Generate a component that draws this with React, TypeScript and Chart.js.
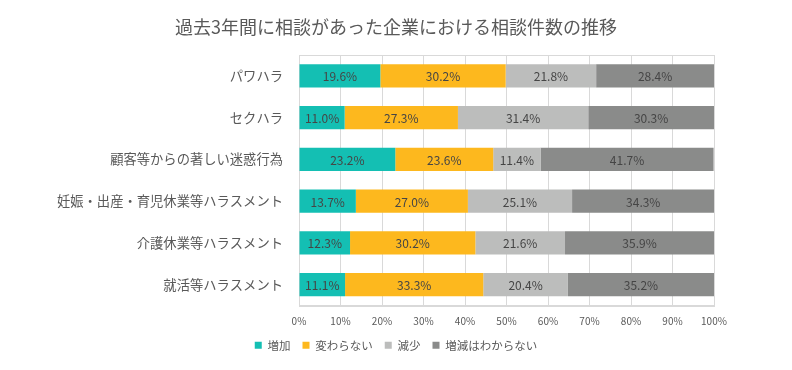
import React, { useEffect, useRef } from "react";
import { Chart, registerables } from "chart.js";

Chart.register(...registerables);

const TITLE = "過去3年間に相談があった企業における相談件数の推移";
const categories = [
  "パワハラ",
  "セクハラ",
  "顧客等からの著しい迷惑行為",
  "妊娠・出産・育児休業等ハラスメント",
  "介護休業等ハラスメント",
  "就活等ハラスメント",
];
const seriesNames = ["増加", "変わらない", "減少", "増減はわからない"];
const increase = [19.6, 11.0, 23.2, 13.7, 12.3, 11.1];
const unchanged = [30.2, 27.3, 23.6, 27.0, 30.2, 33.3];
const decrease = [21.8, 31.4, 11.4, 25.1, 21.6, 20.4];
const unknown = [28.4, 30.3, 41.7, 34.3, 35.9, 35.2];
const xTicks = [0, 10, 20, 30, 40, 50, 60, 70, 80, 90, 100];
const colors = ["#14BFB3", "#FDB81E", "#BCBDBC", "#8A8B8A"];

const FONT = "'Noto Sans CJK JP', 'Noto Sans', sans-serif";

const titlePlugin = {
  id: "centerTitle",
  afterDraw(chart: any) {
    const { ctx, width } = chart;
    ctx.save();
    ctx.font = `18px ${FONT}`;
    ctx.fillStyle = "#595959";
    ctx.textAlign = "center";
    ctx.textBaseline = "middle";
    ctx.fillText(TITLE, width / 2, 27);
    ctx.restore();
  },
};

const framePlugin = {
  id: "frame",
  beforeDatasetsDraw(chart: any) {
    const { ctx, chartArea } = chart;
    ctx.save();
    ctx.strokeStyle = "#D9D9D9";
    ctx.lineWidth = 1;
    ctx.strokeRect(
      Math.round(chartArea.left) + 0.5,
      Math.round(chartArea.top) + 0.5,
      Math.round(chartArea.right - chartArea.left),
      Math.round(chartArea.bottom - chartArea.top)
    );
    ctx.restore();
  },
};

const labelPlugin = {
  id: "barLabels",
  afterDatasetsDraw(chart: any) {
    const { ctx } = chart;
    ctx.save();
    ctx.font = `12px ${FONT}`;
    ctx.fillStyle = "#454545";
    ctx.textAlign = "center";
    ctx.textBaseline = "middle";
    chart.data.datasets.forEach((ds: any, i: number) => {
      const meta = chart.getDatasetMeta(i);
      meta.data.forEach((el: any, j: number) => {
        const v = ds.data[j];
        const cx = (el.x + el.base) / 2;
        ctx.fillText(`${v.toFixed(1)}%`, cx, el.y + 1);
      });
    });
    ctx.restore();
  },
};

export default function App() {
  const ref = useRef<HTMLCanvasElement>(null);
  useEffect(() => {
    if (!ref.current) return;
    const series = [increase, unchanged, decrease, unknown];
    const chart = new Chart(ref.current, {
      type: "bar",
      data: {
        labels: categories,
        datasets: series.map((d, i) => ({
          label: seriesNames[i],
          data: d,
          backgroundColor: colors[i],
          borderWidth: 0,
          categoryPercentage: 0.56,
          barPercentage: 1,
        })),
      },
      options: {
        indexAxis: "y",
        animation: false,
        responsive: false,
        maintainAspectRatio: false,
        layout: { padding: { left: 0, right: 0, top: 55, bottom: 9 } },
        plugins: {
          title: { display: false },
          legend: {
            position: "bottom",
            labels: {
              boxWidth: 7,
              boxHeight: 7,
              color: "#595959",
              font: { family: FONT, size: 11.5 },
              padding: 12,
            },
          },
          tooltip: { enabled: false },
        },
        scales: {
          x: {
            stacked: true,
            min: 0,
            max: 100,
            afterBuildTicks: (axis: any) => {
              axis.ticks = xTicks.map((v) => ({ value: v }));
            },
            afterFit: (axis: any) => {
              axis.height = 22;
            },
            ticks: {
              callback: (v: any) => `${v}%`,
              color: "#595959",
              font: { family: FONT, size: 10 },
              padding: 10,
              maxRotation: 0,
            },
            grid: { color: "#D9D9D9", drawTicks: false },
            border: { color: "#D9D9D9" },
          },
          y: {
            stacked: true,
            afterFit: (axis: any) => {
              axis.width = 299;
            },
            ticks: {
              color: "#595959",
              font: { family: FONT, size: 13.3 },
              padding: 16,
            },
            grid: { display: false, drawTicks: false },
            border: { color: "#D9D9D9" },
          },
          yRight: {
            type: "category",
            position: "right",
            display: true,
            afterFit: (axis: any) => {
              axis.width = 78;
            },
            ticks: { display: false },
            grid: { display: false, drawTicks: false },
            border: { display: false },
          },
        },
      },
      plugins: [framePlugin, labelPlugin, titlePlugin],
    } as any);
    return () => chart.destroy();
  }, []);
  return (
    <div style={{ position: "fixed", left: 0, top: 0, width: 792, height: 370, background: "#fff" }}>
      <canvas ref={ref} width={792} height={370} style={{ width: 792, height: 370 }} />
    </div>
  );
}
